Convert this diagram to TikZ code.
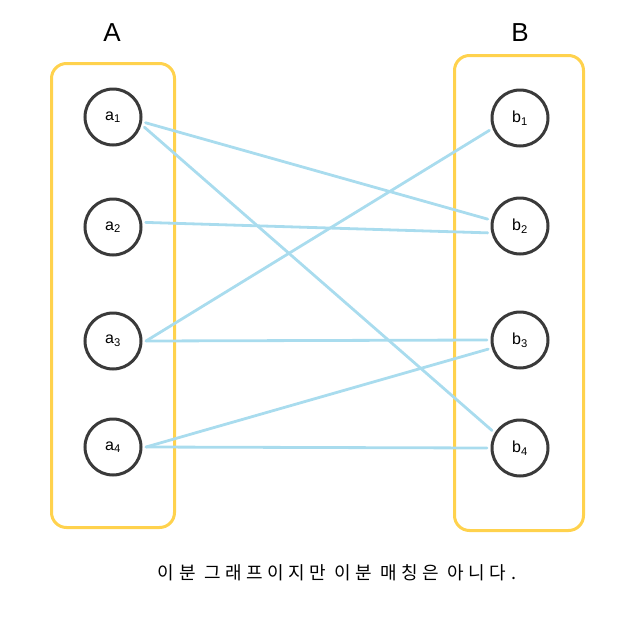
\documentclass[tikz,border=0pt]{standalone}
\usepackage{fontspec}
\setmainfont{Liberation Sans}
\newfontfamily\krfont[LetterSpace=25]{Noto Sans CJK KR}
\usepackage{xcolor}
\definecolor{cSet}{HTML}{FFD24D}
\definecolor{cNode}{HTML}{3A3A3A}
\definecolor{cEdge}{HTML}{A9DCEE}
\usetikzlibrary{positioning}
\tikzset{
  set-box/.style={draw=cSet,line width=3pt,rounded corners=15pt,inner sep=0pt},
  set-label/.style={font=\fontsize{26}{30}\selectfont},
  vertex/.style={draw=cNode,line width=3pt,circle,minimum size=56pt,
    inner sep=0pt,outer sep=5pt,font=\fontsize{16}{19}\selectfont},
  edge/.style={draw=cEdge,line width=2.8pt,line cap=round},
}

\begin{document}
\begin{tikzpicture}[x=1pt,y=-1pt]
  \useasboundingbox (0,0) rectangle (639,643);
  % the two sides
  \node[set-box,minimum width=123pt,minimum height=464pt] (setA) at (113,295.5) {};
  \node[set-box,minimum width=129pt,minimum height=475pt] (setB) at (519,293) {};
  \node[set-label] (labA) at (112,33) {A};
  \node[set-label] (labB) at (520,33) {B};
  % vertices
  \node[vertex] (a1) at (113,117) {a\textsubscript{1}};
  \node[vertex] (a2) at (113,227) {a\textsubscript{2}};
  \node[vertex] (a3) at (113,341) {a\textsubscript{3}};
  \node[vertex] (a4) at (113,447) {a\textsubscript{4}};
  \node[vertex] (b1) at (520,118) {b\textsubscript{1}};
  \node[vertex] (b2) at (520,226) {b\textsubscript{2}};
  \node[vertex] (b3) at (520,340) {b\textsubscript{3}};
  \node[vertex] (b4) at (520,448) {b\textsubscript{4}};
  % edges
  \draw[edge] (a1.-10) -- (b2.168);
  \draw[edge] (a1.-18) -- (b4.148);
  \draw[edge] (a2.8)   -- (b2.-168);
  \draw[edge] (a3.0)   -- (b1.-158);
  \draw[edge] (a3.0)   -- (b3.180);
  \draw[edge] (a4.0)   -- (b3.-164);
  \draw[edge] (a4.0)   -- (b4.180);
  \node[font=\krfont\fontsize{18}{21}\selectfont] (note) at (337,573)
    {이분 그래프이지만 이분 매칭은 아니다.};
\end{tikzpicture}
\end{document}
